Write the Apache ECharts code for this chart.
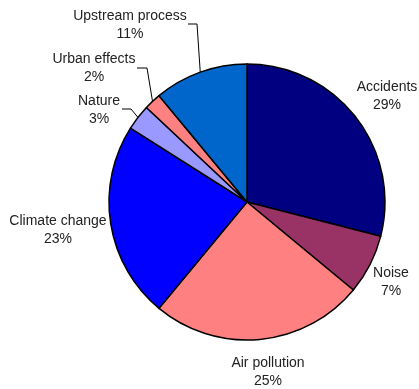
<!DOCTYPE html>
<html lang="en">
<head>
    <meta charset="UTF-8">
    <title>Pie</title>
    <script src="https://cdn.jsdelivr.net/npm/echarts@6/dist/echarts.min.js"></script>
    <style>
        html, body { margin: 0; padding: 0; background: #fff; }
    </style>
</head>
<body>
<div id="main" style="width: 419px;height:389px;"></div>
<script type="text/javascript">
    // data, clockwise from 12 o'clock
    var categories = ['Accidents', 'Noise', 'Air pollution', 'Climate change', 'Nature', 'Urban effects', 'Upstream process'];
    var shares = [29, 7, 25, 23, 3, 2, 11];
    var colors = ['#000080', '#993366', '#FF8080', '#0000FF', '#9999FF', '#FF8080', '#0066CC'];

    // label centres and (optional) leader elbow / end points
    var labelPos = [
        {x: 387, y: 96},
        {x: 391, y: 282},
        {x: 268, y: 372},
        {x: 58, y: 230},
        {x: 99, y: 110, elbow: [131, 109], end: [122, 109]},
        {x: 94, y: 68, elbow: [147, 68], end: [137, 68]},
        {x: 130, y: 25, elbow: [197, 24], end: [188, 24]}
    ];

    var seriesData = categories.map(function (name, i) {
        return {
            name: name,
            value: shares[i],
            itemStyle: {color: colors[i]},
            labelLine: {show: !!labelPos[i].elbow}
        };
    });

    var myChart = echarts.init(document.getElementById('main'));

    var option = {
        animation: false,
        series: [{
            type: 'pie',
            center: [247, 202],
            radius: 138,
            startAngle: 90,
            clockwise: true,
            avoidLabelOverlap: false,
            itemStyle: {
                borderColor: '#000',
                borderWidth: 1.5
            },
            label: {
                position: 'outside',
                formatter: '{b}\n{c}%',
                fontFamily: 'Liberation Sans, Arial, sans-serif',
                fontSize: 14,
                lineHeight: 18,
                color: '#222'
            },
            labelLine: {
                lineStyle: {color: '#000', width: 1}
            },
            labelLayout: function (params) {
                var p = labelPos[params.dataIndex];
                var res = {x: p.x, y: p.y, align: 'center', verticalAlign: 'middle'};
                if (p.elbow && params.labelLinePoints) {
                    res.labelLinePoints = [params.labelLinePoints[0], p.elbow, p.end];
                }
                return res;
            },
            data: seriesData
        }]
    };

    myChart.setOption(option);
</script>
</body>
</html>
